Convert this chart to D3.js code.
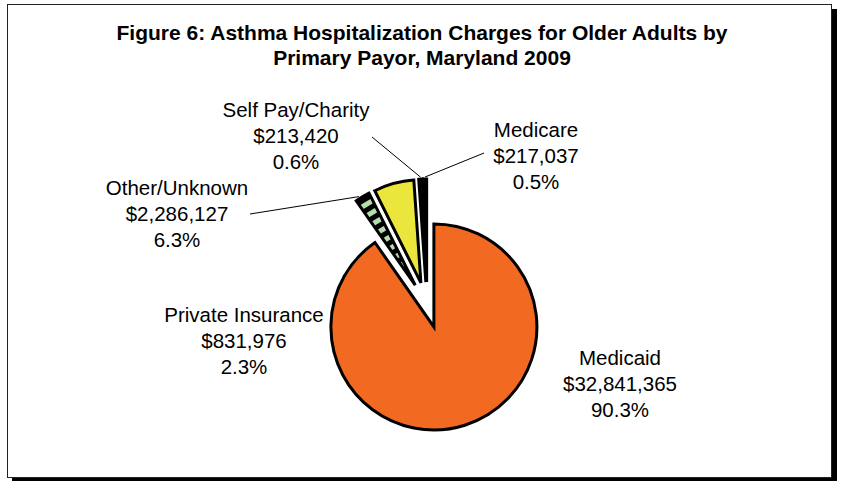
<!DOCTYPE html>
<html>
<head>
<meta charset="utf-8">
<script src="https://cdn.jsdelivr.net/npm/d3@7"></script>
<style>
  html, body { margin: 0; padding: 0; background: #fff; }
  svg { display: block; font-family: "Liberation Sans", Arial, sans-serif; }
</style>
</head>
<body>
<svg id="chart" width="841" height="481"></svg>
<script>
// chart data
const titleLines = ["Figure 6: Asthma Hospitalization Charges for Older Adults by", "Primary Payor, Maryland 2009"];
const payors = ["Medicaid", "Private Insurance", "Other/Unknown", "Self Pay/Charity", "Medicare"];
const percents = [90.3, 2.3, 6.3, 0.6, 0.5];
// label texts as they appear on the figure
const labelNames = ["Medicaid", "Private Insurance", "Other/Unknown", "Self Pay/Charity", "Medicare"];
const labelCharges = ["$32,841,365", "$831,976", "$2,286,127", "$213,420", "$217,037"];
const labelPercents = ["90.3%", "2.3%", "6.3%", "0.6%", "0.5%"];

const fills = ["#f26a22", "url(#stripes)", "#ebe63c", "#111111", "#3a0a40"];

// label layout (center of first line) and leader lines: which slice the line runs to
const labelPos = [
  { x: 620, y: 358 },
  { x: 244, y: 315 },
  { x: 177, y: 188 },
  { x: 296, y: 110 },
  { x: 536, y: 130 }
];
const leaders = [
  null,
  null,
  { from: [250, 214], slice: 1, at: 0.3 },
  { from: [372, 137], slice: 3, at: 0.5 },
  { from: [484, 153], slice: 4, at: 0.5 }
];

const svg = d3.select("#chart");

// frame with shadow
svg.append("rect").attr("x", 12).attr("y", 9).attr("width", 825).attr("height", 472).attr("fill", "#000");
svg.append("rect").attr("x", 7.5).attr("y", 4.5).attr("width", 824).attr("height", 473)
  .attr("fill", "#fff").attr("stroke", "#222").attr("stroke-width", 1);

const defs = svg.append("defs");
const pat = defs.append("pattern").attr("id", "stripes")
  .attr("patternUnits", "userSpaceOnUse").attr("width", 10).attr("height", 10)
  .attr("patternTransform", "rotate(-31)");
pat.append("rect").attr("width", 10).attr("height", 10).attr("fill", "#000");
pat.append("rect").attr("y", 3).attr("width", 10).attr("height", 5).attr("fill", "#b4dcae");

// title
svg.append("text")
  .attr("text-anchor", "middle")
  .attr("font-size", "21px").attr("font-weight", "bold").attr("fill", "#000")
  .selectAll("tspan").data(titleLines).join("tspan")
  .attr("x", 422).attr("y", (d, i) => 40 + i * 25)
  .text(d => d);

// pie
const cx = 427, cy = 305, radius = 103, explode = 23;
const pie = d3.pie().sort(null).value(d => d);
const arcs = pie(percents);
const arc = d3.arc().innerRadius(0).outerRadius(radius);

const offset = a => {
  const mid = (a.startAngle + a.endAngle) / 2;
  return [explode * Math.sin(mid), -explode * Math.cos(mid)];
};

const g = svg.append("g").attr("transform", `translate(${cx},${cy})`);
g.selectAll("path.slice").data(arcs).join("path")
  .attr("class", "slice")
  .attr("transform", d => `translate(${offset(d)})`)
  .attr("d", arc)
  .attr("fill", (d, i) => fills[i])
  .attr("stroke", "#000").attr("stroke-width", 3).attr("stroke-linejoin", "miter");

// leader lines
leaders.forEach(l => {
  if (!l) return;
  const a = arcs[l.slice];
  const ang = a.startAngle + (a.endAngle - a.startAngle) * l.at;
  const [ox, oy] = offset(a);
  const r = radius + 2;
  const x2 = cx + ox + r * Math.sin(ang);
  const y2 = cy + oy - r * Math.cos(ang);
  svg.append("line")
    .attr("x1", l.from[0]).attr("y1", l.from[1])
    .attr("x2", x2).attr("y2", y2)
    .attr("stroke", "#000").attr("stroke-width", 1);
});

// labels
labelPos.forEach((p, i) => {
  const t = svg.append("text")
    .attr("text-anchor", "middle")
    .attr("font-size", "20.5px").attr("fill", "#000");
  [labelNames[i], labelCharges[i], labelPercents[i]].forEach((s, k) => {
    t.append("tspan").attr("x", p.x).attr("y", p.y + 7 + k * 26).text(s);
  });
});
</script>
</body>
</html>
